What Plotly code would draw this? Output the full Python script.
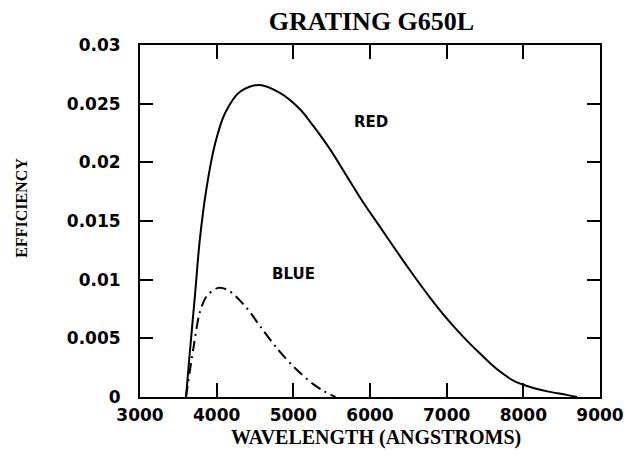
import plotly.graph_objects as go

# Data
red_wl = [3600, 3650, 3720, 3780, 3870, 3980, 4110, 4300, 4550, 4830, 5090, 5260,
          5480, 5700, 5910, 6130, 6350, 6565, 6780, 7000, 7220, 7435, 7650, 7870,
          8090, 8300, 8565, 8700]
red_eff = [0, 0.0038, 0.0089, 0.0134, 0.0179, 0.0216, 0.0242, 0.0260, 0.0266, 0.0259,
           0.0245, 0.0231, 0.0211, 0.0188, 0.0166, 0.0145, 0.0124, 0.0104, 0.0085,
           0.0067, 0.0051, 0.0037, 0.0024, 0.0014, 0.00085, 0.0005, 0.00018, 0]

blue_wl = [3600, 3700, 3780, 3870, 4020, 4150, 4390, 4570, 4780, 5000, 5260, 5400, 5550]
blue_eff = [0, 0.0043, 0.0072, 0.0086, 0.0093, 0.0091, 0.0076, 0.0060, 0.0042,
            0.0026, 0.0011, 0.0005, 0]

x_ticks = [3000, 4000, 5000, 6000, 7000, 8000, 9000]
y_ticks = [0, 0.005, 0.01, 0.015, 0.02, 0.025, 0.03]
y_labels = ["0", "0.005", "0.01", "0.015", "0.02", "0.025", "0.03"]

fig = go.Figure()
fig.add_trace(go.Scatter(x=red_wl, y=red_eff, mode="lines",
                         line=dict(color="black", width=2, shape="spline", smoothing=0.9),
                         showlegend=False))
fig.add_trace(go.Scatter(x=blue_wl, y=blue_eff, mode="lines",
                         line=dict(color="black", width=2, shape="spline", smoothing=0.9,
                                   dash="11px,5px,2px,5px"),
                         showlegend=False))

tickfont = dict(family="DejaVu Sans", size=17, color="black", weight="bold")

W, H = 625, 459
fig.update_layout(
    width=W, height=H,
    margin=dict(l=140, r=25, t=45, b=61.5, autoexpand=False),
    paper_bgcolor="white", plot_bgcolor="white",
    title=dict(text="GRATING G650L", x=371.5 / W, xanchor="center",
               y=1 - 21 / H, yanchor="middle",
               font=dict(family="Liberation Serif", size=26, color="black", weight="bold")),
    xaxis=dict(range=[3000, 9000], tickvals=x_ticks, ticktext=[str(v) for v in x_ticks],
               ticks="inside", ticklen=14, tickwidth=2, tickcolor="black",
               showline=True, linecolor="black", linewidth=2, mirror="ticks",
               showgrid=False, zeroline=False, tickfont=tickfont, automargin=False,
               ticklabelstandoff=2),
    yaxis=dict(range=[0, 0.03], tickvals=y_ticks, ticktext=y_labels,
               ticks="inside", ticklen=13, tickwidth=2, tickcolor="black",
               showline=True, linecolor="black", linewidth=2, mirror="ticks",
               showgrid=False, zeroline=False, tickfont=tickfont, automargin=False,
               ticklabelstandoff=14),
    annotations=[
        dict(x=0.513, y=-0.115, xref="paper", yref="paper", text="WAVELENGTH (ANGSTROMS)",
             showarrow=False, xanchor="center", yanchor="middle",
             font=dict(family="Liberation Serif", size=20, color="black", weight="bold")),
        dict(x=-0.2565, y=0.5376, xref="paper", yref="paper", text="EFFICIENCY",
             showarrow=False, textangle=-90, xanchor="center", yanchor="middle",
             font=dict(family="Liberation Serif", size=16, color="black", weight="bold")),
        dict(x=6013, y=0.02345, text="RED", showarrow=False, xref="x", yref="y",
             font=dict(family="DejaVu Sans", size=15, color="black", weight="bold")),
        dict(x=5002, y=0.0105, text="BLUE", showarrow=False, xref="x", yref="y",
             font=dict(family="DejaVu Sans", size=15, color="black", weight="bold")),
    ],
)

# remove the default page margin so the figure fills the 625x459 window exactly
fig.write_html("out.html", config={"displayModeBar": False},
               post_script="document.body.style.margin='0px';")
